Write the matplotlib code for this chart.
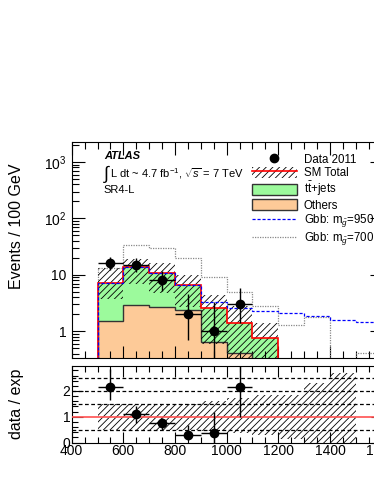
import numpy as np
import matplotlib
matplotlib.use("Agg")
import matplotlib.pyplot as plt
from matplotlib.lines import Line2D
from matplotlib.patches import Patch
from matplotlib.ticker import FixedLocator, FixedFormatter, MultipleLocator, NullFormatter

plt.rcParams['font.family'] = ['Liberation Sans', 'DejaVu Sans']
plt.rcParams['mathtext.fontset'] = 'custom'
plt.rcParams['mathtext.rm'] = 'Liberation Sans'
plt.rcParams['mathtext.it'] = 'Liberation Sans:italic'
plt.rcParams['hatch.linewidth'] = 0.6

# bins of 100 GeV
edges_sm = [500, 600, 700, 800, 900, 1000, 1100, 1200]
others = [1.5, 2.9, 2.65, 2.4, 0.65, 0.42, 0.01]
sm_total = [7.1, 13.7, 10.7, 6.5, 2.55, 1.39, 0.75]
band_hi = [13.0, 19.5, 16.0, 9.9, 4.4, 2.8, 1.39]
band_lo = [3.8, 7.0, 4.7, 2.7, 0.6, 0.3, 0.1]

edges_sig = [500, 600, 700, 800, 900, 1000, 1100, 1200, 1300, 1400, 1500, 1600]
gbb950 = [7.1, 13.7, 10.7, 6.6, 3.35, 2.55, 2.3, 2.08, 1.87, 1.58, 1.48]
gbb700 = [13.5, 34.0, 29.5, 20.0, 9.25, 5.0, 2.8, 1.29, 1.81, 0.05, 0.41]

data_x = [550, 650, 750, 850, 950, 1050]
data_y = [16, 15, 8, 2, 1, 3]
data_lo = [4.0, 3.8, 2.8, 1.3, 0.83, 1.6]
data_hi = [5.1, 4.9, 3.9, 2.6, 2.3, 2.9]

ratio_y = [2.17, 1.09, 0.74, 0.31, 0.38, 2.17]
ratio_lo = [0.52, 0.33, 0.26, 0.21, 0.38, 1.17]
ratio_hi = [0.67, 0.33, 0.2, 0.36, 0.81, 1.5]

edges_ratio = [500, 600, 700, 800, 900, 1000, 1100, 1200, 1300, 1400, 1500]
rband_hi = [1.5, 1.5, 1.5, 1.5, 1.6, 1.72, 1.85, 1.85, 2.3, 2.7]
rband_lo = [0.5, 0.5, 0.5, 0.5, 0.45, 0.35, 0.3, 0.15, 0.0, 0.0]

green = '#9cfa9c'
orange = '#fdca98'
hatch = '/////'

fig = plt.figure(figsize=(3.74, 4.84), dpi=100)
ax1 = fig.add_axes([0.1917, 0.2603, 0.8286, 0.4463])
ax2 = fig.add_axes([0.1917, 0.0857, 0.8286, 0.1587])

base = 1e-3
ax1.set_yscale('log')
ax1.stairs(others, edges_sm, baseline=base, fill=True, color=orange, zorder=1)
ax1.stairs(sm_total, edges_sm, baseline=others, fill=True, color=green, zorder=1)
ax1.stairs(others, edges_sm, baseline=base, color='#333333', lw=1.0, zorder=2)
ax1.stairs(band_hi, edges_sm, baseline=band_lo, fill=True, facecolor='none',
           edgecolor='k', hatch=hatch, lw=0, zorder=3)
ax1.stairs(sm_total, edges_sm, baseline=base, color='red', lw=1.2, zorder=4)
ax1.stairs(gbb950, edges_sig, baseline=base, color='blue', lw=0.9, ls=(0, (2.5, 1.5)), zorder=5)
ax1.stairs(gbb700, edges_sig, baseline=base, color='#888888', lw=0.9, ls=(0, (1, 1)), zorder=2)
ax1.errorbar(data_x, data_y, yerr=[data_lo, data_hi], xerr=50, fmt='o', color='k',
             ms=6, lw=1.0, capsize=0, zorder=6)

ax1.set_xlim(400, 1600)
ax1.set_ylim(0.337, 2260)
ax1.yaxis.set_major_locator(FixedLocator([1, 10, 100, 1000]))
ax1.yaxis.set_major_formatter(FixedFormatter(['1', '10', '$10^2$', '$10^3$']))
ax1.xaxis.set_major_locator(MultipleLocator(200))
ax1.xaxis.set_minor_locator(MultipleLocator(50))
ax1.xaxis.set_major_formatter(NullFormatter())
ax1.tick_params(which='both', direction='in', top=True, right=True, labelsize=10)
ax1.tick_params(which='major', length=9, width=0.8)
ax1.tick_params(which='minor', length=5, width=0.8)
ax1.set_ylabel('Events / 100 GeV', fontsize=11.5, loc='top')
ax1.yaxis.set_label_coords(-0.155, 0.9)

ax1.text(0.104, 0.935, 'ATLAS', transform=ax1.transAxes, fontsize=8,
         fontweight='bold', fontstyle='italic', va='center')
ax1.text(0.1, 0.85, r'$\int$', transform=ax1.transAxes, fontsize=13, va='center')
ax1.text(0.125, 0.855, r'L dt ~ 4.7 fb$^{-1}$, $\sqrt{s}$ = 7 TeV',
         transform=ax1.transAxes, fontsize=8, va='center')
ax1.text(0.104, 0.78, 'SR4-L', transform=ax1.transAxes, fontsize=8, va='center')

h_data = Line2D([], [], marker='o', color='k', ls='none', ms=6)
h_sm = (Patch(facecolor='none', edgecolor='k', hatch=hatch, lw=0),
        Line2D([], [], color='red', lw=1.2))
h_tt = Patch(facecolor=green, edgecolor='#333333', lw=1.0)
h_oth = Patch(facecolor=orange, edgecolor='#333333', lw=1.0)
h_950 = Line2D([], [], color='blue', lw=0.9, ls=(0, (2.5, 1.5)))
h_700 = Line2D([], [], color='#888888', lw=0.9, ls=(0, (1, 1)))
leg = ax1.legend([h_data, h_sm, h_tt, h_oth, h_950, h_700],
                 ['Data 2011', 'SM Total', r'$\mathrm{t\bar{t}}$+jets', 'Others',
                  r'Gbb: m$_{\tilde{g}}$=950', r'Gbb: m$_{\tilde{g}}$=700'],
                 loc='upper left', bbox_to_anchor=(0.555, 0.985), frameon=False,
                 fontsize=8.3, handlelength=3.9, handleheight=1.1,
                 labelspacing=0.08, handletextpad=0.6, borderpad=0.2)

# ratio panel
ax2.stairs(rband_hi, edges_ratio, baseline=rband_lo, fill=True, facecolor='none',
           edgecolor='k', hatch=hatch, lw=0, zorder=1)
for yv in [0.5, 1.5, 2.0, 2.5]:
    ax2.axhline(yv, color='k', ls=(0, (3, 2)), lw=0.9, zorder=2)
ax2.axhline(1.0, color='#ff5050', lw=1.2, zorder=3)
ax2.errorbar(data_x, ratio_y, yerr=[ratio_lo, ratio_hi], xerr=50, fmt='o', color='k',
             ms=6, lw=1.0, capsize=0, zorder=4)
ax2.set_xlim(400, 1600)
ax2.set_ylim(0, 2.98)
ax2.xaxis.set_major_locator(MultipleLocator(200))
ax2.xaxis.set_minor_locator(MultipleLocator(50))
ax2.yaxis.set_major_locator(MultipleLocator(1))
ax2.yaxis.set_minor_locator(MultipleLocator(0.2))
ax2.tick_params(which='both', direction='in', top=True, right=True, labelsize=10)
ax2.tick_params(which='major', length=8, width=0.8, pad=1)
ax2.tick_params(which='minor', length=4, width=0.8)
ax2.set_ylabel('data / exp', fontsize=11.5)
ax2.yaxis.set_label_coords(-0.155, 0.5)

fig.savefig('out.png', dpi=100)
